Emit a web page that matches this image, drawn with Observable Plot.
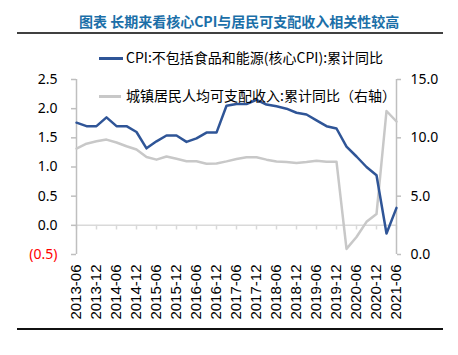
<!DOCTYPE html>
<html><head><meta charset="utf-8">
<script src="https://cdn.jsdelivr.net/npm/d3@7"></script>
<script src="https://cdn.jsdelivr.net/npm/@observablehq/plot@0.6"></script>
<style>
body{margin:0;background:#fff;}
#wrap{position:relative;width:458px;height:355px;overflow:hidden;font-family:"Noto Sans CJK SC",sans-serif;background:#fff;}
#wrap svg{position:absolute;left:0;top:0;}
.title{position:absolute;left:79px;top:11px;white-space:nowrap;font-weight:bold;font-size:14px;line-height:20px;color:#1b6fa8;}
.hr{position:absolute;left:17px;width:426px;background:#404040;}
.leg{position:absolute;left:99px;white-space:nowrap;font-size:14px;line-height:18px;color:#000;z-index:2;}
.leg span.sw{display:inline-block;width:24px;height:3px;vertical-align:middle;margin-right:3px;position:relative;top:-1px;}
</style></head>
<body>
<div id="wrap">
  <div class="title">图表 长期来看核心CPI与居民可支配收入相关性较高</div>
  <div class="hr" style="top:32px;height:2px;"></div>
  <div class="leg" style="top:48px;"><span class="sw" style="background:#2f5597"></span>CPI:不包括食品和能源(核心CPI):累计同比</div>
  <div class="leg" style="top:86px;"><span class="sw" style="background:#c8c8c8;width:22px;margin-right:5px"></span>城镇居民人均可支配收入:累计同比（右轴）</div>
  <div class="hr" style="top:328px;height:2px;background:#111;"></div>
</div>
<script>
const quarters = ["2013-06","2013-09","2013-12","2014-03","2014-06","2014-09","2014-12","2015-03","2015-06","2015-09","2015-12","2016-03","2016-06","2016-09","2016-12","2017-03","2017-06","2017-09","2017-12","2018-03","2018-06","2018-09","2018-12","2019-03","2019-06","2019-09","2019-12","2020-03","2020-06","2020-09","2020-12","2021-03","2021-06"];
const coreCPI = [1.76,1.70,1.70,1.85,1.70,1.70,1.60,1.32,1.44,1.54,1.54,1.43,1.49,1.59,1.59,2.05,2.08,2.08,2.15,2.07,2.04,2.00,1.93,1.90,1.80,1.70,1.66,1.35,1.18,1.00,0.86,-0.14,0.30];
const income = [9.08,9.5,9.7,9.85,9.6,9.28,9.0,8.36,8.13,8.4,8.2,8.0,8.0,7.78,7.8,7.98,8.19,8.33,8.33,8.13,7.98,7.93,7.84,7.93,8.04,7.96,7.96,0.48,1.5,2.8,3.47,12.3,11.4];
const leftTicks = [0,0.5,1,1.5,2,2.5];
const negTicks = [-0.5];
const rightTicks = [0,5,10,15];
const labelTicks = quarters.filter((q,i)=>i%2===0);

const toLeft = v => v/5 - 0.5;
const rows = quarters.map((q,i)=>({q, cpi: coreCPI[i], inc: toLeft(income[i])}));
const numFont = "Noto Sans, sans-serif";

const chart = Plot.plot({
  width:458, height:355,
  marginTop:79, marginBottom:101, marginLeft:76, marginRight:62,
  x:{type:"point", domain:quarters, padding:0},
  y:{domain:[-0.5,2.5]},
  style:{background:"transparent", overflow:"visible"},
  marks:[
    Plot.ruleY([0], {stroke:"#d9d9d9", strokeWidth:1.5}),
    Plot.ruleX(labelTicks, {x:d=>d, y1:0, y2:-0.08, stroke:"#d9d9d9", strokeWidth:1.5}),
    Plot.ruleX([quarters[0], quarters[quarters.length-1]], {x:d=>d, y1:-0.5, y2:2.5, stroke:"#bfbfbf", strokeWidth:1.5}),
    Plot.axisY(leftTicks, {anchor:"left", label:null, tickSize:5, tickPadding:14, stroke:"#bfbfbf", strokeWidth:1.5, fill:"#000", fontSize:14, fontFamily:numFont, tickFormat:d=>d.toFixed(1)}),
    Plot.axisY(negTicks, {anchor:"left", label:null, tickSize:5, tickPadding:14, stroke:"#bfbfbf", strokeWidth:1.5, fill:"#ff0000", fontSize:14, fontFamily:numFont, tickFormat:d=>"(" + Math.abs(d).toFixed(1) + ")"}),
    Plot.axisY(rightTicks.map(toLeft), {anchor:"right", label:null, tickSize:4, tickPadding:10, stroke:"#bfbfbf", strokeWidth:1.5, fill:"#000", fontSize:14, fontFamily:numFont, tickFormat:d=>((d+0.5)*5).toFixed(1)}),
    Plot.axisX(labelTicks, {anchor:"bottom", label:null, tickRotate:-90, tickSize:0, tickPadding:10, fill:"#000", fontSize:15, fontFamily:"Liberation Sans, Arial, sans-serif"}),
    Plot.line(rows, {x:"q", y:"inc", stroke:"#c8c8c8", strokeWidth:2.5}),
    Plot.line(rows, {x:"q", y:"cpi", stroke:"#2f5597", strokeWidth:2.5})
  ]
});
document.getElementById("wrap").appendChild(chart);
</script>
</body></html>
